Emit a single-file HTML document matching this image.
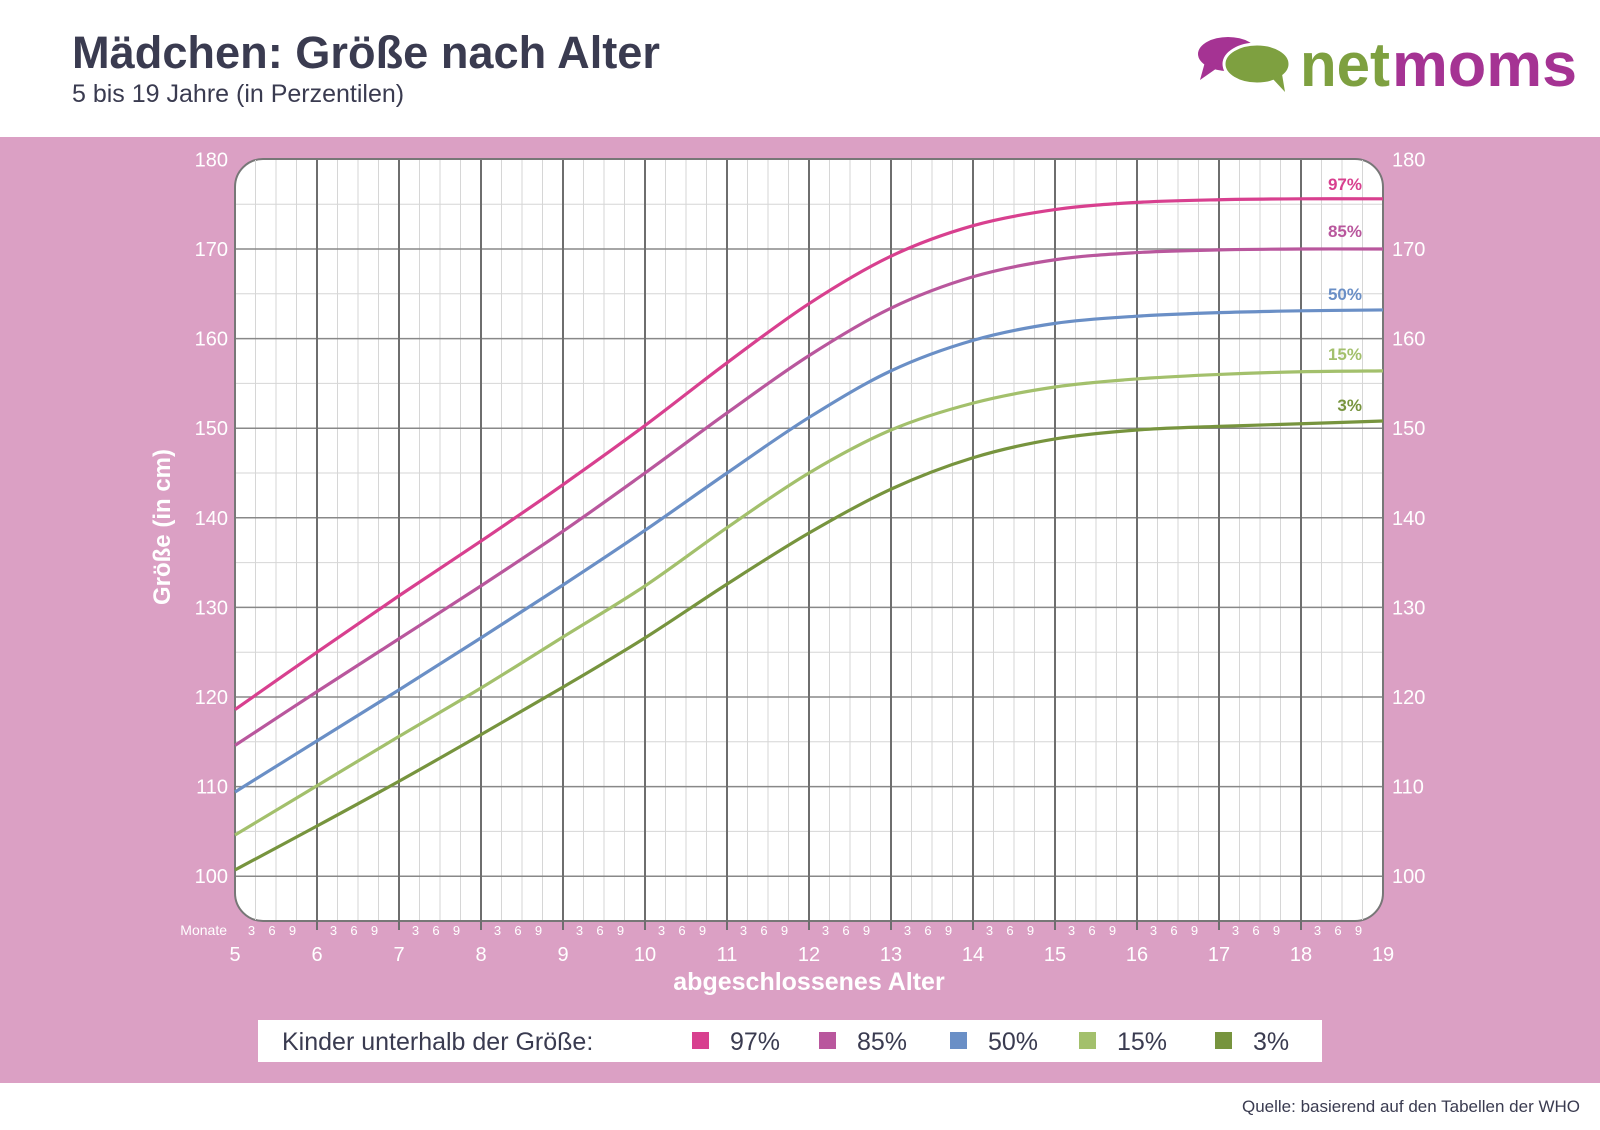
<!DOCTYPE html>
<html><head><meta charset="utf-8"><style>
body{margin:0;width:1600px;height:1125px;background:#fff;overflow:hidden;font-family:"Liberation Sans","DejaVu Sans",sans-serif}
</style></head><body>
<svg id="s" width="1600" height="1125" xmlns="http://www.w3.org/2000/svg" font-family="Liberation Sans, DejaVu Sans, sans-serif">
<rect x="0" y="137" width="1600" height="946" fill="#dba0c4"/>
<text x="72" y="68" font-size="45" font-weight="bold" fill="#3a3b50" textLength="588" lengthAdjust="spacingAndGlyphs">Mädchen: Größe nach Alter</text>
<text x="72" y="102" font-size="25" fill="#3a3b50">5 bis 19 Jahre (in Perzentilen)</text>
<ellipse cx="1228" cy="54" rx="30" ry="17" fill="#a53393"/>
<polygon points="1205,62 1200,80 1220,66" fill="#a53393"/>
<ellipse cx="1257" cy="64" rx="33" ry="20" fill="#7ea040" stroke="#fff" stroke-width="3"/>
<polygon points="1272,78 1285,92 1282,74" fill="#7ea040"/>
<text x="1300" y="86" font-size="62" font-weight="bold" fill="#7ea040" textLength="90" lengthAdjust="spacingAndGlyphs">net</text>
<text x="1392" y="86" font-size="62" font-weight="bold" fill="#a53393" textLength="185" lengthAdjust="spacingAndGlyphs">moms</text>
<rect x="235" y="159" width="1148" height="762" rx="28" fill="#fff" stroke="#777" stroke-width="2"/>
<g id="grid"></g>
<g id="curves"></g>
<g id="labels" fill="#fff" font-size="20"></g>
<text x="170" y="527" font-size="24" font-weight="bold" fill="#fff" text-anchor="middle" transform="rotate(-90 170 527)">Größe (in cm)</text>
<text x="809" y="990" font-size="25" font-weight="bold" fill="#fff" text-anchor="middle">abgeschlossenes Alter</text>
<text x="227" y="935" font-size="14" fill="#fff" text-anchor="end">Monate</text>
<rect x="258" y="1020" width="1064" height="42" fill="#fff"/>
<text x="282" y="1050" font-size="25" fill="#3a3b50">Kinder unterhalb der Größe:</text>
<g id="leg" font-size="25" fill="#3a3b50"></g>
<text x="1580" y="1112" font-size="17" fill="#3a3b50" text-anchor="end">Quelle: basierend auf den Tabellen der WHO</text>
</svg>
<script>
var NS="http://www.w3.org/2000/svg";
function el(p,t,a,txt){var e=document.createElementNS(NS,t);for(var k in a)e.setAttribute(k,a[k]);if(txt!=null)e.textContent=txt;document.getElementById(p).appendChild(e);return e;}
var X=function(a){return 235+(a-5)*82;}, Y=function(v){return 159.4+(180-v)*8.96;};
for(var a=5;a<19;a++)for(var q=1;q<4;q++){var x=X(a+q/4);el('grid','line',{x1:x,x2:x,y1:160,y2:920,stroke:'#d6d6d6','stroke-width':1});}
for(var v=100;v<180;v+=5){if(v%10)el('grid','line',{x1:236,x2:1382,y1:Y(v),y2:Y(v),stroke:'#d6d6d6','stroke-width':1});}
for(var v=100;v<180;v+=10)el('grid','line',{x1:236,x2:1382,y1:Y(v),y2:Y(v),stroke:'#888','stroke-width':1.5});
for(var a=6;a<19;a++)el('grid','line',{x1:X(a),x2:X(a),y1:160,y2:930,stroke:'#6e6e6e','stroke-width':2});
for(var v=100;v<=180;v+=10){el('labels','text',{x:228,y:Y(v)+7,'text-anchor':'end'},v);el('labels','text',{x:1392,y:Y(v)+7},v);}
for(var a=5;a<=19;a++){el('labels','text',{x:X(a),y:961,'text-anchor':'middle'},a);
 if(a<19)for(var q=1;q<4;q++)el('labels','text',{x:X(a+q/4)-4,y:935,'text-anchor':'middle','font-size':13},q*3);}
var D=[
['#d8408f','97%',[118.6,125.0,131.3,137.4,143.7,150.3,157.3,163.9,169.2,172.6,174.4,175.2,175.5,175.6,175.6]],
['#b9579d','85%',[114.6,120.6,126.5,132.4,138.5,145.0,151.7,158.1,163.4,166.9,168.8,169.6,169.9,170.0,170.0]],
['#6a8fc6','50%',[109.4,115.1,120.8,126.6,132.5,138.6,145.0,151.2,156.4,159.8,161.7,162.5,162.9,163.1,163.2]],
['#a3c06c','15%',[104.6,110.1,115.6,121.0,126.7,132.4,138.9,145.0,149.8,152.8,154.6,155.5,156.0,156.3,156.4]],
['#77943e','3%',[100.7,105.6,110.6,115.8,121.1,126.6,132.6,138.3,143.2,146.7,148.8,149.8,150.2,150.5,150.8]]];
var labY=[190,237,300,360,411];
D.forEach(function(d,i){
 var p=d[2].map(function(v,j){return [X(5+j),Y(v)];});
 var s='M'+p[0][0]+','+p[0][1];
 for(var j=0;j<p.length-1;j++){var p0=p[Math.max(j-1,0)],p1=p[j],p2=p[j+1],p3=p[Math.min(j+2,p.length-1)];
  s+=' C'+(p1[0]+(p2[0]-p0[0])/6)+','+(p1[1]+(p2[1]-p0[1])/6)+' '+(p2[0]-(p3[0]-p1[0])/6)+','+(p2[1]-(p3[1]-p1[1])/6)+' '+p2[0]+','+p2[1];}
 el('curves','path',{d:s,fill:'none',stroke:d[0],'stroke-width':3.2});
 el('curves','text',{x:1362,y:labY[i],'text-anchor':'end','font-size':17,'font-weight':'bold',fill:d[0]},d[1]);
 var lx=[692,819,950,1079,1215][i];
 el('leg','rect',{x:lx,y:1032,width:17,height:17,fill:d[0]});
 el('leg','text',{x:lx+38,y:1050},d[1]);
});
</script>
</body></html>
